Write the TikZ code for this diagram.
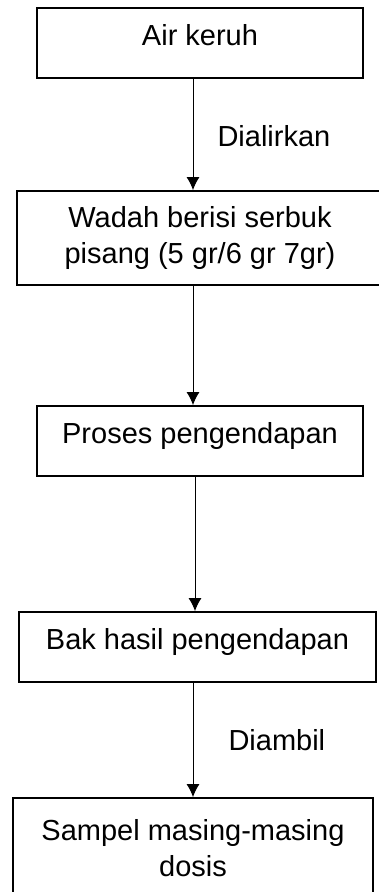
\documentclass[tikz,border=0pt]{standalone}
\usepackage{fontspec}
\setmainfont{Liberation Sans}
\usetikzlibrary{arrows.meta}

\tikzset{
  box/.style={draw, line width=1.8pt, inner sep=0pt, text height=0.75em, text depth=0.35em},
  twoline/.style={draw, line width=1.8pt, inner sep=0pt, align=center},
  lbl/.style={inner sep=0pt}
}

\begin{document}
\begin{tikzpicture}[x=1pt,y=-1pt,font=\fontsize{29}{36}\selectfont]
\useasboundingbox (0,0) rectangle (379,892);
\node[box,minimum width=326pt,minimum height=70pt] (1) at (200,43) {Air keruh};
\node[twoline,minimum width=366pt,minimum height=94pt] (2) at (200,238) {Wadah berisi serbuk\\pisang (5 gr/6 gr 7gr)};
\node[box,minimum width=326pt,minimum height=70pt] (3) at (200,441) {Proses pengendapan};
\node[box,minimum width=357pt,minimum height=70pt] (4) at (197.5,647) {Bak hasil pengendapan};
\node[twoline,minimum width=360pt,minimum height=100pt] (5) at (193,848) {Sampel masing-masing\\dosis};
\draw [-{Latex[length=13pt,width=13pt]},line width=1pt]([xshift=-7pt]1.south)--([xshift=-7pt]2.north) node[pos=0.5,right=24pt,yshift=-2pt,lbl]{Dialirkan};
\draw [-{Latex[length=13pt,width=13pt]},line width=1pt]([xshift=-7pt]2.south)--([xshift=-7pt]3.north);
\draw [-{Latex[length=13pt,width=13pt]},line width=1pt]([xshift=-5pt]3.south)--([xshift=-2.5pt]4.north);
\draw [-{Latex[length=13pt,width=13pt]},line width=1pt]([xshift=-4.5pt]4.south)--(5.north) node[pos=0.5,right=35pt,lbl]{Diambil};
\end{tikzpicture}
\end{document}
